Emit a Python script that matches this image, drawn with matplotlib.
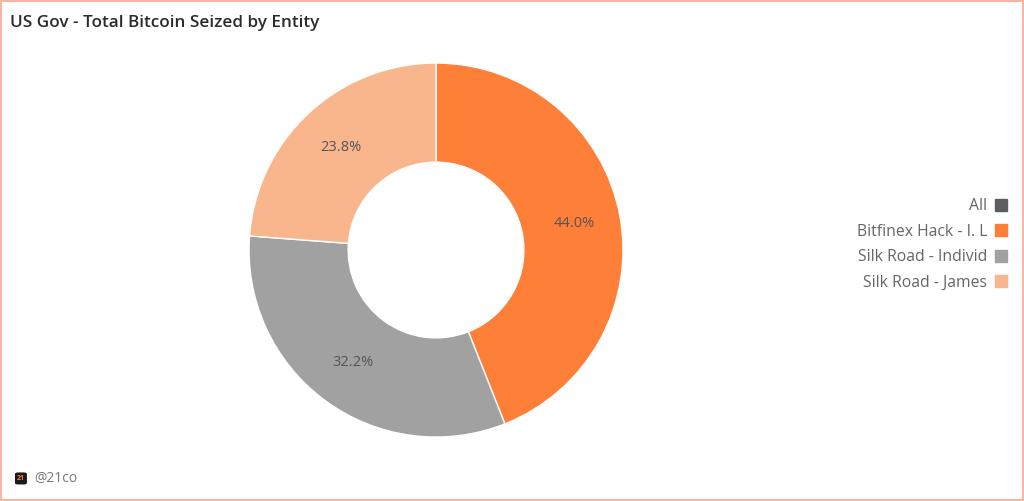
import matplotlib.pyplot as plt
from matplotlib.patches import Rectangle, FancyBboxPatch
from matplotlib.lines import Line2D

plt.rcParams['font.family'] = ['Open Sans', 'DejaVu Sans']

labels = ["All", "Bitfinex Hack - I. L", "Silk Road - Individ", "Silk Road - James"]
shares = [0.0, 44.0, 32.2, 23.8]
colors = ["#5b5d63", "#fe7f38", "#a1a1a1", "#f9b58c"]

fig = plt.figure(figsize=(10.24, 5.01), dpi=100)
ax = fig.add_axes([0.2432, 0.1277, 0.3652, 0.7465])

vals = [v for v in shares if v > 0]
cols = [c for v, c in zip(shares, colors) if v > 0]
wedges, texts, autotexts = ax.pie(
    vals, colors=cols, startangle=90, counterclock=False,
    autopct="%.1f%%", pctdistance=0.75,
    wedgeprops=dict(width=0.53, edgecolor="white", linewidth=1),
    textprops=dict(color="#555555", fontsize=10.5),
)
ax.set_xlim(-1, 1)
ax.set_ylim(-1, 1)

# legend, text on the left, marker on the right
handles = [Line2D([], [], marker="s", linestyle="", markersize=8.5,
                  markerfacecolor=c, markeredgecolor=c) for c in colors]
leg = fig.legend(handles, labels, loc="center right",
                 bbox_to_anchor=(0.997, 0.512), markerfirst=False,
                 frameon=False, fontsize=11.3, labelcolor="#666666",
                 handlelength=0.8, handletextpad=0.45, labelspacing=0.6)

fig.text(0.0098, 0.955, "US Gov - Total Bitcoin Seized by Entity",
         fontsize=12.3, fontweight="semibold", color="#2b2b2b", va="center")

# watermark
fig.add_artist(FancyBboxPatch((0.0146, 0.033), 0.0117, 0.024,
                              boxstyle="round,pad=0,rounding_size=0.003",
                              transform=fig.transFigure, facecolor="#1a1a1a",
                              edgecolor="none"))
fig.text(0.0205, 0.045, "21", fontsize=5, color="#fe7f38", fontweight="bold",
         ha="center", va="center")
fig.text(0.033, 0.045, "@21co", fontsize=10, color="#777777", va="center")

fig.add_artist(Rectangle((0.001, 0.001), 0.998, 0.997, transform=fig.transFigure,
                         fill=False, edgecolor="#f7b6a3", linewidth=1.5))

fig.savefig("out.png", dpi=100)
